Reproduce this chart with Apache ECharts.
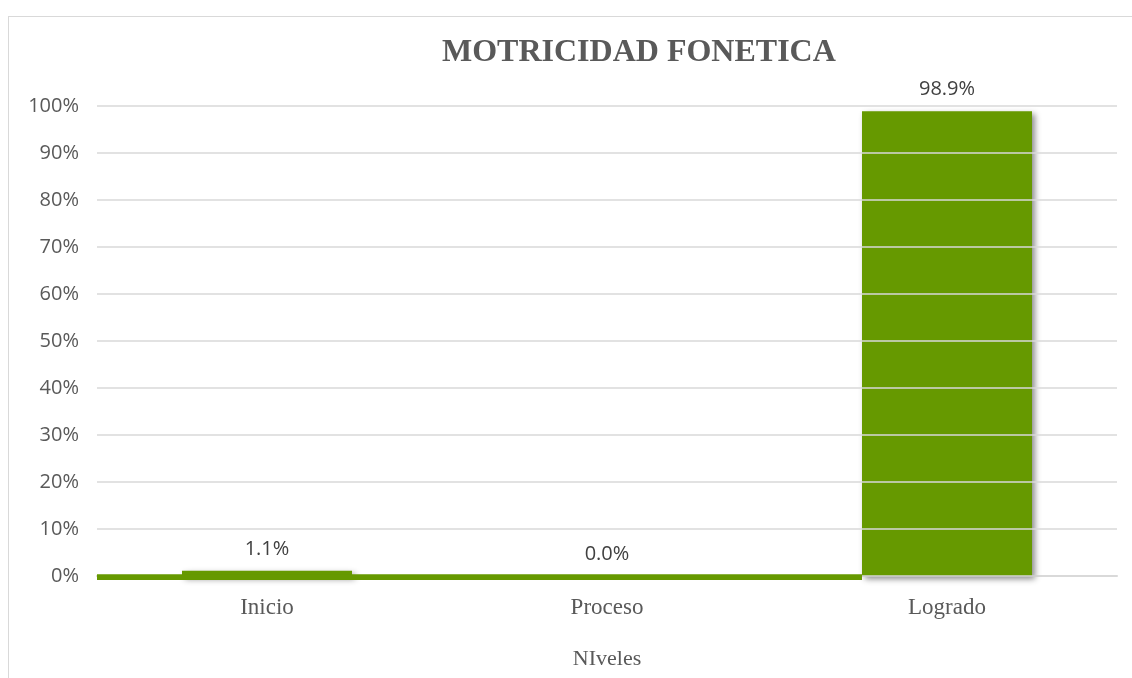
<!DOCTYPE html>
<html>
<head>
<meta charset="utf-8">
<script src="https://cdn.jsdelivr.net/npm/echarts@6/dist/echarts.min.js"></script>
<style>
  html, body { margin: 0; padding: 0; background: #fff; }
  #frame { position: absolute; left: 8px; top: 16px; width: 1130px; height: 680px; border: 1px solid #d9d9d9; box-sizing: border-box; }
  #chart { position: absolute; left: 0; top: 0; width: 1132px; height: 678px; }
</style>
</head>
<body>
<div id="frame"></div>
<div id="chart"></div>
<script>
var niveles = ['Inicio', 'Proceso', 'Logrado'];
var porcentajes = [1.1, 0.0, 98.9];
// franja verde que aparece sobre el eje en el original (en unidades de categoría)
var franjaBase = [[0, -0.5], [2.25, -0.5]];

var chart = echarts.init(document.getElementById('chart'));
chart.setOption({
    title: {
        text: 'MOTRICIDAD FONETICA',
        left: 437,
        top: 32,
        textStyle: {
            fontFamily: 'Liberation Serif',
            fontWeight: 'bold',
            fontSize: 32,
            color: '#595959'
        }
    },
    grid: {
        left: 97,
        right: 15,
        top: 106,
        bottom: 102,
        outerBoundsMode: 'none',
        containLabel: false
    },
    xAxis: [{
        type: 'category',
        data: niveles,
        name: 'NIveles',
        nameLocation: 'middle',
        nameGap: 72,
        nameTextStyle: {
            fontFamily: 'Liberation Serif',
            fontSize: 22,
            color: '#595959'
        },
        axisTick: { show: false },
        axisLine: { lineStyle: { color: '#d9d9d9', width: 2 } },
        axisLabel: {
            margin: 20,
            fontFamily: 'Liberation Serif',
            fontSize: 23,
            color: '#595959'
        }
    }, {
        type: 'value',
        min: 0,
        max: 3,
        show: false
    }],
    yAxis: {
        type: 'value',
        min: 0,
        max: 100,
        interval: 10,
        z: 3,
        axisLine: { show: false },
        axisTick: { show: false },
        axisLabel: {
            margin: 18,
            formatter: '{value}%',
            fontFamily: 'Open Sans',
            fontSize: 20,
            color: '#595959'
        },
        splitLine: { lineStyle: { color: '#d9d9d9', width: 1.5 } }
    },
    series: [{
        type: 'bar',
        data: porcentajes,
        barWidth: '50%',
        z: 1,
        itemStyle: {
            color: '#669900',
            shadowColor: 'rgba(0,0,0,0.45)',
            shadowBlur: 6,
            shadowOffsetX: 3,
            shadowOffsetY: 3
        },
        label: {
            show: true,
            position: 'top',
            distance: 12,
            formatter: function (p) { return p.value.toFixed(1) + '%'; },
            fontFamily: 'Open Sans',
            fontSize: 20,
            color: '#404040'
        }
    }, {
        type: 'line',
        xAxisIndex: 1,
        data: franjaBase,
        symbol: 'none',
        silent: true,
        clip: false,
        z: 4,
        lineStyle: { color: '#669900', width: 8 }
    }]
});
</script>
</body>
</html>
